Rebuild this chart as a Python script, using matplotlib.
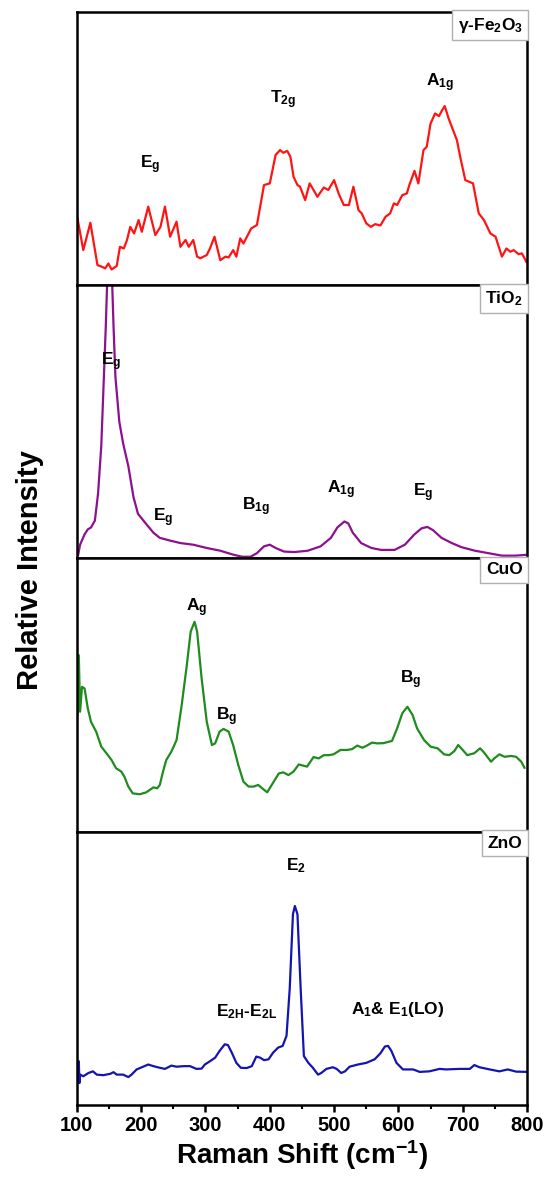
import matplotlib
matplotlib.use("Agg")
import matplotlib.pyplot as plt
from matplotlib.ticker import MultipleLocator

plt.rcParams["font.family"] = ["Liberation Sans", "DejaVu Sans"]
plt.rcParams["font.weight"] = "bold"
plt.rcParams["mathtext.fontset"] = "custom"
plt.rcParams["mathtext.rm"] = "Liberation Sans:bold"
plt.rcParams["mathtext.bf"] = "Liberation Sans:bold"
plt.rcParams["mathtext.it"] = "Liberation Sans:bold"
plt.rcParams["mathtext.default"] = "bf"

# gamma-Fe2O3
fe_x = [101, 110, 121, 129, 132, 139, 144, 149, 154, 162, 167, 173, 178, 183, 189, 196, 201, 211,
        222, 230, 237, 245, 255, 261, 269, 274, 281, 287, 292, 302, 307, 314, 323, 331, 336, 343,
        348, 354, 359, 371, 380, 391, 400, 409, 416, 421, 427, 432, 437, 443, 447, 455, 462, 468,
        474, 484, 491, 500, 507, 515, 523, 530, 538, 543, 550, 557, 564, 572, 580, 587, 593, 598,
        606, 613, 617, 625, 631, 639, 644, 650, 657, 663, 668, 672, 678, 683, 691, 696, 704, 716,
        725, 733, 743, 751, 761, 768, 774, 779, 787, 792, 799]
fe_y = [0.244, 0.128, 0.228, 0.116, 0.073, 0.067, 0.061, 0.079, 0.057, 0.070, 0.140, 0.134, 0.165,
        0.213, 0.189, 0.238, 0.195, 0.287, 0.183, 0.213, 0.287, 0.177, 0.232, 0.140, 0.165, 0.140,
        0.165, 0.104, 0.098, 0.110, 0.134, 0.177, 0.091, 0.104, 0.101, 0.128, 0.104, 0.171, 0.152,
        0.207, 0.220, 0.366, 0.372, 0.476, 0.494, 0.484, 0.491, 0.470, 0.396, 0.366, 0.360, 0.311,
        0.372, 0.348, 0.323, 0.357, 0.348, 0.384, 0.335, 0.293, 0.293, 0.360, 0.274, 0.262, 0.226,
        0.213, 0.223, 0.218, 0.250, 0.262, 0.299, 0.293, 0.329, 0.335, 0.366, 0.418, 0.372, 0.494,
        0.506, 0.591, 0.628, 0.618, 0.640, 0.655, 0.610, 0.579, 0.530, 0.470, 0.384, 0.372, 0.262,
        0.238, 0.189, 0.177, 0.104, 0.134, 0.122, 0.128, 0.113, 0.116, 0.085]

# TiO2
ti_x = [102, 105, 112, 117, 122, 128, 133, 138, 142, 145, 147, 151, 155, 157, 160, 166, 172, 180,
        188, 195, 206, 219, 229, 245, 261, 281, 302, 323, 344, 357, 370, 380, 391, 400, 409, 422,
        438, 459, 479, 495, 505, 516, 522, 529, 542, 558, 573, 594, 610, 625, 636, 645, 654, 667,
        683, 698, 719, 740, 761, 782, 799]
ti_y = [0.013, 0.050, 0.088, 0.106, 0.113, 0.138, 0.238, 0.413, 0.663, 0.850, 1.000, 1.160, 1.000,
        0.850, 0.663, 0.500, 0.420, 0.338, 0.225, 0.163, 0.131, 0.094, 0.075, 0.065, 0.056, 0.050,
        0.038, 0.028, 0.013, 0.006, 0.006, 0.019, 0.044, 0.050, 0.038, 0.025, 0.023, 0.028, 0.044,
        0.075, 0.113, 0.135, 0.128, 0.094, 0.056, 0.038, 0.031, 0.031, 0.050, 0.088, 0.110, 0.115,
        0.103, 0.075, 0.056, 0.041, 0.028, 0.019, 0.010, 0.010, 0.013]

# CuO
cu_x = [101, 103, 105, 108, 112, 117, 122, 130, 138, 146, 154, 161, 169, 174, 180, 187, 198, 208,
        219, 225, 229, 234, 239, 247, 255, 263, 271, 277, 283, 287, 294, 302, 310, 315, 322, 328,
        336, 343, 351, 359, 367, 375, 382, 388, 396, 403, 414, 421, 429, 437, 445, 453, 458, 468,
        476, 484, 492, 499, 510, 520, 528, 536, 544, 551, 559, 567, 577, 590, 598, 606, 614, 622,
        629, 640, 650, 661, 671, 679, 687, 693, 700, 707, 718, 727, 733, 744, 749, 757, 765, 775,
        783, 791, 796]
cu_y = [0.427, 0.646, 0.439, 0.530, 0.524, 0.451, 0.402, 0.366, 0.311, 0.287, 0.262, 0.232, 0.220,
        0.201, 0.165, 0.140, 0.137, 0.144, 0.162, 0.159, 0.171, 0.220, 0.262, 0.293, 0.335, 0.463,
        0.610, 0.732, 0.768, 0.732, 0.561, 0.402, 0.317, 0.323, 0.366, 0.376, 0.366, 0.317, 0.244,
        0.183, 0.165, 0.165, 0.171, 0.159, 0.144, 0.171, 0.213, 0.217, 0.207, 0.220, 0.246, 0.241,
        0.238, 0.273, 0.268, 0.280, 0.280, 0.283, 0.299, 0.299, 0.302, 0.315, 0.307, 0.315, 0.326,
        0.323, 0.324, 0.332, 0.378, 0.433, 0.457, 0.427, 0.378, 0.335, 0.311, 0.305, 0.283, 0.280,
        0.295, 0.317, 0.299, 0.280, 0.287, 0.305, 0.290, 0.256, 0.268, 0.283, 0.274, 0.277, 0.274,
        0.256, 0.234]

# ZnO
zn_x = [101, 103, 104, 105, 110, 118, 125, 131, 141, 152, 157, 162, 172, 180, 185, 193, 203, 211,
        219, 229, 237, 247, 255, 266, 276, 286, 294, 299, 307, 315, 322, 330, 335, 341, 348, 355,
        364, 372, 379, 385, 391, 398, 405, 413, 420, 426, 431, 436, 439, 443, 448, 453, 460, 467,
        475, 480, 488, 498, 504, 511, 517, 524, 537, 550, 563, 572, 579, 584, 589, 597, 607, 623,
        633, 648, 664, 674, 695, 711, 718, 726, 742, 757, 770, 783, 800]
zn_y = [0.130, 0.160, 0.080, 0.111, 0.105, 0.117, 0.123, 0.111, 0.109, 0.114, 0.120, 0.111, 0.111,
        0.102, 0.111, 0.130, 0.140, 0.148, 0.142, 0.136, 0.132, 0.144, 0.140, 0.142, 0.142, 0.132,
        0.133, 0.148, 0.160, 0.173, 0.198, 0.222, 0.219, 0.191, 0.154, 0.136, 0.135, 0.142, 0.177,
        0.173, 0.164, 0.167, 0.191, 0.210, 0.216, 0.253, 0.426, 0.698, 0.728, 0.698, 0.426, 0.179,
        0.154, 0.136, 0.111, 0.117, 0.132, 0.138, 0.132, 0.117, 0.123, 0.140, 0.148, 0.154, 0.167,
        0.189, 0.214, 0.216, 0.198, 0.154, 0.130, 0.130, 0.121, 0.123, 0.132, 0.130, 0.132, 0.132,
        0.146, 0.138, 0.130, 0.123, 0.130, 0.122, 0.121]

panels = [
    ("γ-Fe$_2$O$_3$", fe_x, fe_y, "#ff1414",
     [("E$_g$", 214, 0.44), ("T$_{2g}$", 420, 0.68), ("A$_{1g}$", 665, 0.74)]),
    ("TiO$_2$", ti_x, ti_y, "#8e108e",
     [("E$_g$", 154, 0.72), ("E$_g$", 234, 0.15), ("B$_{1g}$", 378, 0.19),
      ("A$_{1g}$", 511, 0.25), ("E$_g$", 638, 0.24)]),
    ("CuO", cu_x, cu_y, "#1e8c1e",
     [("A$_g$", 286, 0.82), ("B$_g$", 333, 0.42), ("B$_g$", 619, 0.555)]),
    ("ZnO", zn_x, zn_y, "#1414b0",
     [("E$_2$", 441, 0.877), ("E$_{2H}$-E$_{2L}$", 364, 0.34), ("A$_1$& E$_1$(LO)", 599, 0.35)]),
]

fig = plt.figure(figsize=(5.49, 11.78), dpi=100)
gs = fig.add_gridspec(4, 1, left=0.140, right=0.960, top=0.990, bottom=0.062, hspace=0.0)

for i, (name, xs, ys, color, labels) in enumerate(panels):
    ax = fig.add_subplot(gs[i])
    ax.plot(xs, ys, color=color, lw=1.6)
    ax.set_xlim(100, 800)
    ax.set_ylim(0, 1)
    ax.set_yticks([])
    for sp in ax.spines.values():
        sp.set_linewidth(1.8)
    for text, lx, ly in labels:
        ax.text(lx, ly, text, ha="center", va="center", fontsize=12.5, fontweight="bold")
    ax.text(0.99, 0.985, name, transform=ax.transAxes, ha="right", va="top",
            fontsize=12.5, fontweight="bold",
            bbox=dict(boxstyle="square,pad=0.32", fc="white", ec="#b0b0b0", lw=1))
    if i < 3:
        ax.set_xticks([])
    else:
        ax.xaxis.set_major_locator(MultipleLocator(100))
        ax.xaxis.set_minor_locator(MultipleLocator(50))
        ax.tick_params(axis="x", which="major", direction="out", length=5, width=1.8,
                       labelsize=14.5, pad=3)
        ax.tick_params(axis="x", which="minor", direction="out", length=3, width=1.5)
        for lab in ax.get_xticklabels():
            lab.set_fontweight("bold")
        ax.set_xlabel("Raman Shift (cm$^{-1}$)", fontsize=20, fontweight="bold", labelpad=2)

fig.text(0.055, 0.516, "Relative Intensity", rotation=90, ha="center", va="center",
         fontsize=21, fontweight="bold")

fig.savefig("out.png", dpi=100)
